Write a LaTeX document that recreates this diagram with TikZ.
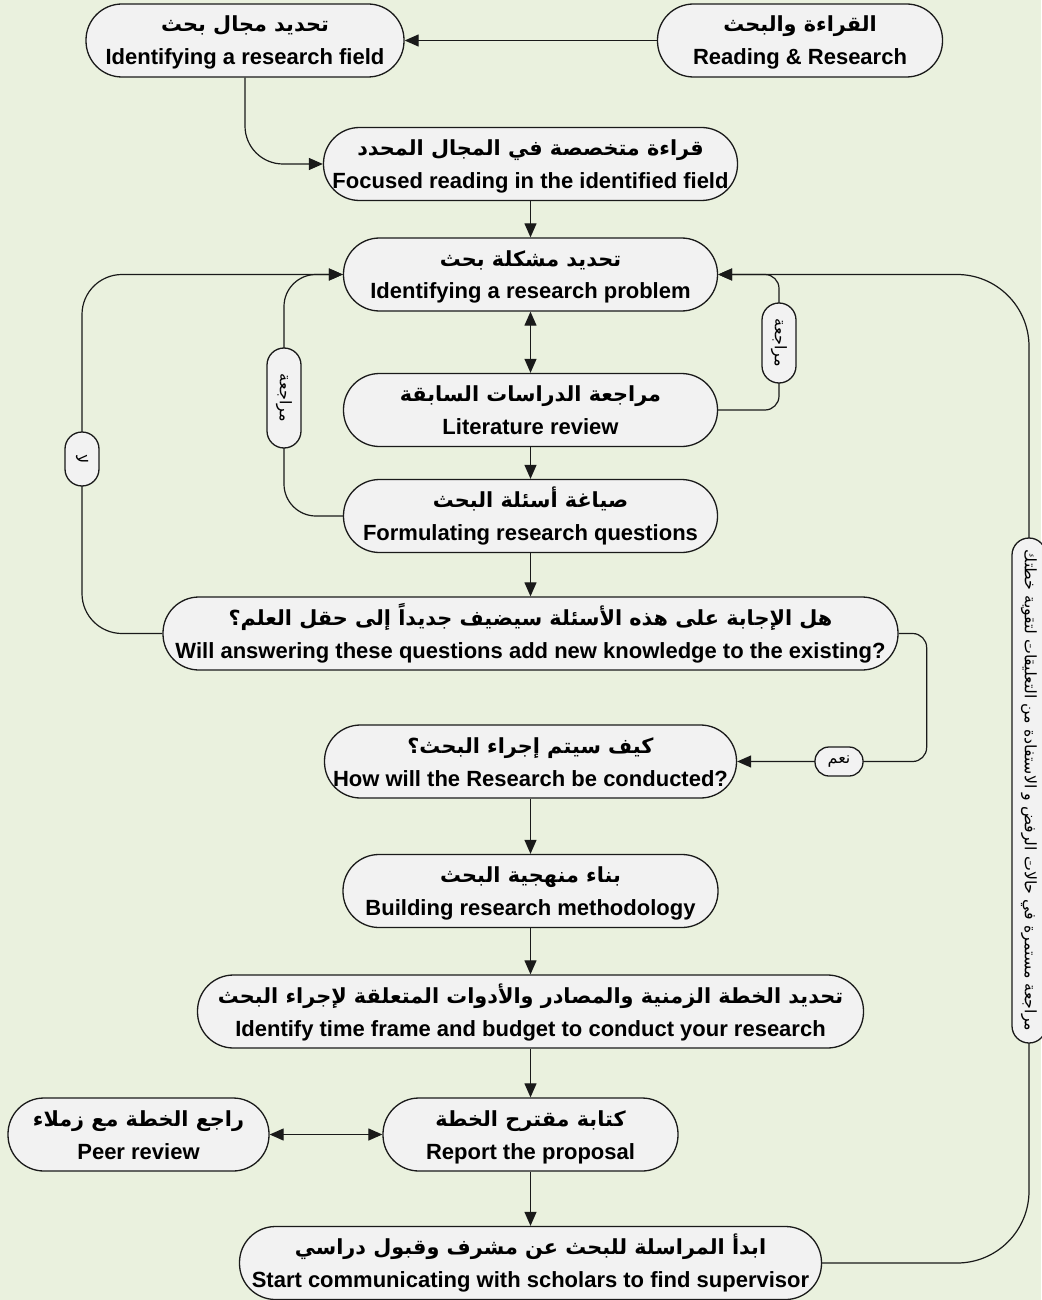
\documentclass[tikz,border=0pt]{standalone}
\usepackage{fontspec}
\setmainfont{Liberation Sans}
\newfontfamily\arfont[Script=Arabic]{DejaVu Sans}
\TeXXeTstate=1
\usetikzlibrary{arrows.meta}
\pgfdeclarelayer{canvas}
\pgfdeclarelayer{links}
\pgfsetlayers{canvas,links,main}

\definecolor{paper}{HTML}{EAF1DE}
\definecolor{boxfill}{HTML}{F2F2F2}
\definecolor{ink}{HTML}{1A1A1A}

% Arabic line (right to left) and English line of a stage box;
% the invisible rules keep both lines at the same place in every box
\newcommand{\arline}[1]{\rule{0pt}{11pt}{\arfont\bfseries\fontsize{10.4}{16.5}\selectfont\beginR #1\endR}}
\newcommand{\enline}[1]{{\bfseries #1}\rule[-3pt]{0pt}{3pt}}
\newcommand{\artag}[1]{{\arfont\beginR #1\endR}}

\tikzset{
  stage/.style={draw=ink, line width=0.65pt, fill=boxfill, rounded corners=18pt,
    minimum height=36.5pt, inner sep=0pt, align=center,
    font=\fontsize{11}{16.5}\selectfont},
  tag/.style={draw=ink, line width=0.65pt, fill=boxfill, rounded corners=8.5pt,
    minimum height=17pt, inner sep=1pt, font=\fontsize{8}{9}\selectfont},
  vtag/.style={tag, rotate=-90},
  link/.style={draw=ink, line width=0.6pt},
  tip/.style={-{Triangle[length=7pt,width=6pt]}},
  tips/.style={{Triangle[length=7pt,width=6pt]}-{Triangle[length=7pt,width=6pt]}},
}

\begin{document}
\begin{tikzpicture}[x=0.5pt,y=-0.5pt]
\useasboundingbox (0,0) rectangle (1041,1300);
\begin{pgfonlayer}{canvas}
  \fill[paper] (0,0) rectangle (1041,1300);
\end{pgfonlayer}

% stages
\node[stage, minimum width=142.5pt] (read) at (800,40.5)
  {\arline{القراءة والبحث}\\\enline{Reading \& Research}};
\node[stage, minimum width=159pt] (field) at (245,40.5)
  {\arline{تحديد مجال بحث}\\\enline{Identifying a research field}};
\node[stage, minimum width=207pt] (focus) at (530.5,164)
  {\arline{قراءة متخصصة في المجال المحدد}\\\enline{Focused reading in the identified field}};
\node[stage, minimum width=187pt] (prob) at (530.5,274.5)
  {\arline{تحديد مشكلة بحث}\\\enline{Identifying a research problem}};
\node[stage, minimum width=187pt] (lit) at (530.5,410)
  {\arline{مراجعة الدراسات السابقة}\\\enline{Literature review}};
\node[stage, minimum width=187pt] (form) at (530.5,516)
  {\arline{صياغة أسئلة البحث}\\\enline{Formulating research questions}};
\node[stage, minimum width=367.5pt] (ask) at (530.5,633.5)
  {\arline{هل الإجابة على هذه الأسئلة سيضيف جديداً إلى حقل العلم؟}\\\enline{Will answering these questions add new knowledge to the existing?}};
\node[stage, minimum width=206pt] (how) at (530.5,761.5)
  {\arline{كيف سيتم إجراء البحث؟}\\\enline{How will the Research be conducted?}};
\node[stage, minimum width=187.5pt] (build) at (530.5,891)
  {\arline{بناء منهجية البحث}\\\enline{Building research methodology}};
\node[stage, minimum width=333pt] (plan) at (530.5,1011.5)
  {\arline{تحديد الخطة الزمنية والمصادر والأدوات المتعلقة لإجراء البحث}\\\enline{Identify time frame and budget to conduct your research}};
\node[stage, minimum width=147.5pt] (write) at (530.5,1134.5)
  {\arline{كتابة مقترح الخطة}\\\enline{Report the proposal}};
\node[stage, minimum width=130.5pt] (peer) at (138.5,1134.5)
  {\arline{راجع الخطة مع زملاء}\\\enline{Peer review}};
\node[stage, minimum width=291pt] (start) at (530.5,1263)
  {\arline{ابدأ المراسلة للبحث عن مشرف وقبول دراسي}\\\enline{Start communicating with scholars to find supervisor}};

% loop labels
\node[vtag, minimum width=27pt] (no) at (82,459) {\artag{لا}};
\node[vtag, minimum width=50pt] (revL) at (284,398) {\artag{مراجعة}};
\node[vtag, minimum width=40pt] (revR) at (779,343) {\artag{مراجعة}};
\node[vtag, minimum width=252.5pt, font=\fontsize{7.9}{9}\selectfont] (cont) at (1029,790.5)
  {\artag{مراجعة مستمرة في حالات الرفض و الاستفادة من التعليقات لتقوية خطتك}};
\node[tag, minimum width=24pt, minimum height=14.5pt, rounded corners=7pt] (yes) at (839,761.5) {\artag{نعم}};

% connectors
\begin{pgfonlayer}{links}
  \draw[link,tip] (read.west) -- (field.east);
  \draw[link,tip,rounded corners=19pt] (field.south) |- (focus.west);
  \draw[link,tip] (focus.south) -- (prob.north);
  \draw[link,tips] (prob.south) -- (lit.north);
  \draw[link,tip] (lit.south) -- (form.north);
  \draw[link,tip] (form.south) -- (ask.north);
  \draw[link,tip] (how.south) -- (build.north);
  \draw[link,tip] (build.south) -- (plan.north);
  \draw[link,tip] (plan.south) -- (write.north);
  \draw[link,tip] (write.south) -- (start.north);
  \draw[link,tips] (peer.east) -- (write.west);
  \draw[link,tip,rounded corners=20pt] (ask.west) -| (no.center) |- (prob.west);
  \draw[link,tip,rounded corners=16pt] (form.west) -| (revL.center) |- (prob.west);
  \draw[link,tip,rounded corners=7pt] (lit.east) -| (revR.center) |- (prob.east);
  \draw[link,tip,rounded corners=36pt] (start.east) -| (cont.center) |- (prob.east);
  \draw[link,tip,rounded corners=7pt] (ask.east) -| ++(28,64) |- (how.east);
\end{pgfonlayer}
\end{tikzpicture}
\end{document}
